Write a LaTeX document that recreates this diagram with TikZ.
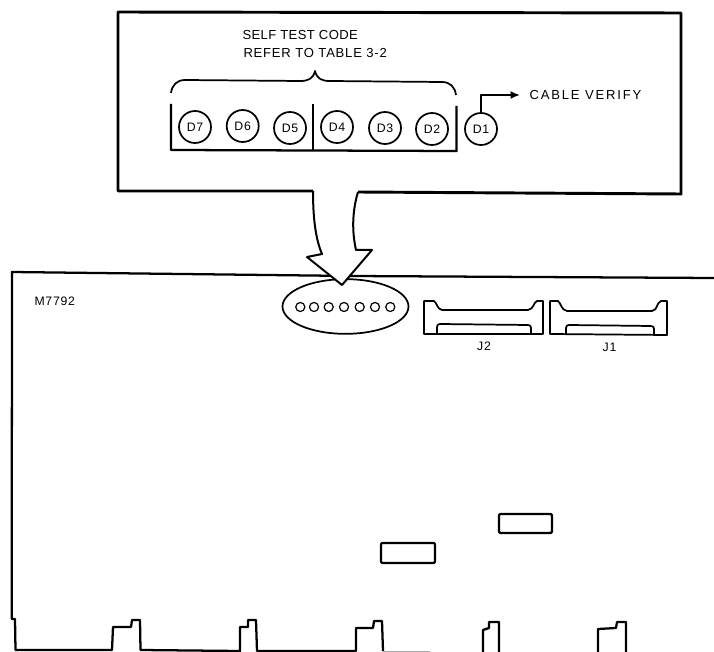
\documentclass[tikz,border=0pt]{standalone}
\usepackage{fontspec}
\setmainfont[LetterSpace=6]{Liberation Sans}
\usetikzlibrary{arrows.meta,shapes.geometric}
\tikzset{every picture/.style={line width=0.75pt}}
\tikzset{
	ledlabel/.style={draw,circle,line width=1.3pt,minimum size=24pt,inner sep=0pt,font=\fontsize{9.2}{10}\selectfont},
	ledhole/.style={draw,circle,line width=0.9pt,minimum size=6.8pt,inner sep=0pt},
	caption/.style={inner sep=0.75pt,font=\fontsize{9.8}{11}\selectfont},
	smalltext/.style={inner sep=0.75pt,font=\fontsize{9.2}{10}\selectfont},
	outline/.style={line width=1.7pt,line join=round},
	heavy/.style={line width=2.2pt,line join=round},
	fineline/.style={line width=1.3pt,line join=round}
}
\begin{document}
\begin{tikzpicture}[x=0.75pt,y=0.75pt,yscale=-1,xscale=1]
	\useasboundingbox (0,0) rectangle (714,652);
	
	%Board outline
	\draw [outline] (714,278) -- (352,276) -- (12,272) -- (11.7,619) -- (15,619) -- (15.5,650) -- (112,650) -- (113,627) -- (131,627) -- (132,620) -- (140,620) -- (140.5,650) -- (240,651) -- (240,627) -- (248,627) -- (248,620) -- (256,620) -- (257,651) -- (356,651) -- (356,628) -- (373,628) -- (374,621) -- (382,621) -- (383,651) ;
	\draw [line width=0.6pt,black!35] (383,651) -- (430,651) ;
	\draw [outline] (483,652) -- (483,630) -- (489,628) -- (489,622) -- (499,622) -- (499,652) ;
	\draw [outline] (598,652) -- (598,629) -- (616,628) -- (617,622) -- (626,622) -- (626,652) ;
	
	%Top box
	\draw [heavy] (313,191) -- (118,191) -- (118,12) -- (681,13) -- (681,194) -- (358,192) ;
	
	%Ellipse
	\node (ledgroup) [draw,ellipse,fineline,minimum width=94.5pt,minimum height=41pt,inner sep=0pt] at (345.5,306.5) {} ;
	
	%Big arrow
	\draw [line width=1.5pt,line join=round,fill=white] (313,191) .. controls (313,220) and (316,240) .. (322,254) -- (307,257) -- (342,285) -- (372,250) -- (356,250) .. controls (352,232) and (352,212) .. (358,192) ;
	
	%Holes
	\node (h7) [ledhole] at (300.3,307) {} ;
	\node (h6) [ledhole] at (314,307) {} ;
	\node (h5) [ledhole] at (328.7,307) {} ;
	\node (h4) [ledhole] at (344,307) {} ;
	\node (h3) [ledhole] at (359.7,307) {} ;
	\node (h2) [ledhole] at (375,307) {} ;
	\node (h1) [ledhole] at (390.3,307) {} ;
	
	%Connector J2
	\draw [fineline] (424,334) -- (424,301) -- (434,301) .. controls (437,303) and (437,309) .. (442,310) -- (528,310) .. controls (534,309) and (533,303) .. (537,301) -- (543,301) -- (543,334) -- cycle ;
	\draw [fineline] (437,334) -- (437,327) .. controls (437,325) and (438,324) .. (440,324) -- (528,325) .. controls (530,325) and (531,326) .. (531,328) -- (531,334) ;
	%Connector J1
	\draw [fineline] (550,334) -- (550,301) -- (558,301) .. controls (561,303) and (561,310) .. (567,311) -- (652,311) .. controls (658,310) and (656,303) .. (661,301) -- (667,301) -- (667,335) -- cycle ;
	\draw [fineline] (566,335) -- (566,328) .. controls (566,326) and (567,325) .. (569,325) -- (651,326) .. controls (653,326) and (654,327) .. (654,329) -- (654,335) ;
	
	%Chips
	\draw [outline,rounded corners=1pt] (381,543) rectangle (435,563) ;
	\draw [outline,rounded corners=1pt] (499,514) rectangle (552,533) ;
	
	%LEDs
	\node (D7) [ledlabel] at (195,127) {D7} ;
	\node (D6) [ledlabel] at (242.7,126) {D6} ;
	\node (D5) [ledlabel] at (290,128) {D5} ;
	\node (D4) [ledlabel] at (337,127) {D4} ;
	\node (D3) [ledlabel] at (385,128) {D3} ;
	\node (D2) [ledlabel] at (432,129) {D2} ;
	\node (D1) [ledlabel] at (481,129) {D1} ;
	
	%Bracket
	\draw [outline] (171,104) -- (171,150) -- (456.5,151) -- (456.5,106) ;
	\draw [outline] (313,104) -- (313,150) ;
	%Brace
	\draw [fineline] (171,93) .. controls (172,85) and (177,80) .. (185,80) -- (300,81) .. controls (308,81) and (313,79) .. (315,71) .. controls (317,79) and (322,81) .. (330,81) -- (442,82) .. controls (450,82) and (455,87) .. (456,95) ;
	
	%Arrow to label
	\coordinate (cabletip) at (520,95) ;
	\draw [fineline,-{Latex[length=7pt,width=6pt]}] (D1.north) |- (cabletip) ;
	
	% Text Node
	\node (cable) [caption,anchor=west] at (528,95) {\addfontfeature{LetterSpace=14}CABLE VERIFY} ;
	% Text Node
	\node (selftest) [caption,anchor=west] at (241,35) {\addfontfeature{LetterSpace=3}SELF TEST CODE} ;
	% Text Node
	\node (refer) [caption,anchor=west] at (242,53) {REFER TO TABLE 3-2} ;
	% Text Node
	\node (board) [smalltext,anchor=west] at (33,301) {M7792} ;
	% Text Node
	\node (J2) [smalltext] at (484,346) {J2} ;
	% Text Node
	\node (J1) [smalltext] at (609.5,347) {J1} ;
\end{tikzpicture}
\end{document}
